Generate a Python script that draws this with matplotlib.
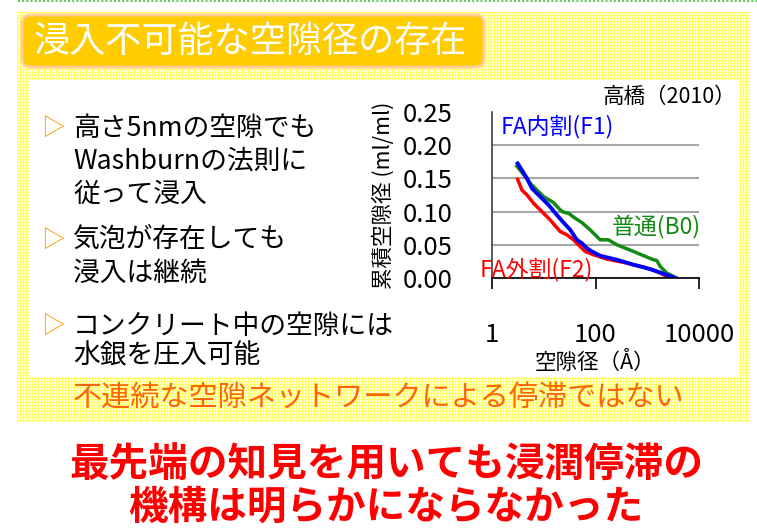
import matplotlib
matplotlib.use('Agg')
import matplotlib.pyplot as plt
import numpy as np
from matplotlib.patches import FancyBboxPatch, Rectangle

plt.rcParams['font.family'] = ['Noto Sans CJK JP', 'DejaVu Sans']

# データ
x_b0 = [3.03, 4.40, 5.49, 9.93, 15.5, 20.8, 24.1, 30.1, 40.5, 54.5, 78.9, 123, 178, 258, 542, 1310, 1520, 1780, 2380, 3700]
y_b0 = [0.1685, 0.1525, 0.1425, 0.1225, 0.1135, 0.1025, 0.099, 0.0975, 0.090, 0.0835, 0.0725, 0.0575, 0.0575, 0.050, 0.040, 0.0275, 0.0265, 0.0175, 0.0075, 0.0]
x_f1 = [3.13, 3.79, 4.74, 5.91, 8.56, 12.4, 17.9, 24.1, 32.5, 43.6, 54.5, 68.0, 85.0, 123, 258, 542, 1135, 2050, 3440]
y_f1 = [0.1725, 0.1625, 0.150, 0.135, 0.1225, 0.110, 0.095, 0.0835, 0.0725, 0.0575, 0.0525, 0.045, 0.040, 0.0335, 0.0275, 0.020, 0.0135, 0.0065, 0.0]
x_f2 = [3.13, 3.79, 4.74, 6.37, 8.56, 13.3, 20.8, 28.0, 37.6, 50.6, 63.2, 91.5, 166, 402, 844, 1520, 2380, 2760]
y_f2 = [0.1485, 0.1325, 0.125, 0.1125, 0.1025, 0.0875, 0.070, 0.065, 0.0575, 0.0475, 0.040, 0.035, 0.0285, 0.0225, 0.0165, 0.010, 0.0025, 0.0]
y_ticks = [0.00, 0.05, 0.10, 0.15, 0.20, 0.25]
x_ticks = [1, 100, 10000]

bullets = [
    ['高さ5nmの空隙でも', 'Washburnの法則に', '従って浸入'],
    ['気泡が存在しても', '浸入は継続'],
    ['コンクリート中の空隙には', '水銀を圧入可能'],
]

fig = plt.figure(figsize=(7.57, 5.28), dpi=100)

# 背景（ピクセル座標）
bg = fig.add_axes([0, 0, 1, 1])
bg.set_xlim(0, 757)
bg.set_ylim(528, 0)
bg.axis('off')

# 黄色の網目模様
h, w = 410, 733
ii, jj = np.mgrid[0:h, 0:w]
pat = ((ii % 3 == 0) | (jj % 3 == 0))
img = np.ones((h, w, 3))
img[pat] = [1.0, 1.0, 0.4]
img[~pat] = [1.0, 1.0, 0.85]
bg.imshow(img, extent=(17, 750, 422, 12), interpolation='nearest', aspect='auto', zorder=0)
bg.add_patch(Rectangle((29, 80), 711, 297, facecolor='white', edgecolor='none', zorder=1))
bg.plot([18, 757], [1, 1], color='#66CC66', lw=1.5, ls=(0, (1, 1)), zorder=1)

# タイトル
bg.add_patch(FancyBboxPatch((22, 15), 462, 52, boxstyle='round,pad=0,rounding_size=9',
                            facecolor='#FFCC00', edgecolor='#FFCC99', lw=2, zorder=2))
bg.text(34, 42, '浸入不可能な空隙径の存在', color='white', fontsize=26, va='center', ha='left', zorder=3)

# 箇条書き
ys = [[128, 161, 194], [240, 273], [326, 356]]
for lines, yy in zip(bullets, ys):
    bg.text(41, yy[0], '▷', color='#FF9900', fontsize=17, va='center', ha='left', zorder=3)
    for t, y in zip(lines, yy):
        bg.text(73, y, t, color='black', fontsize=19.3, va='center', ha='left', zorder=3)

bg.text(73, 398, '不連続な空隙ネットワークによる停滞ではない', color='#FF6600', fontsize=21,
        va='center', ha='left', zorder=3)
bg.text(386, 465, '最先端の知見を用いても浸潤停滞の', color='#FF0000', fontsize=28.5,
        fontweight='bold', va='center', ha='center', zorder=3)
bg.text(386, 507, '機構は明らかにならなかった', color='#FF0000', fontsize=28.5,
        fontweight='bold', va='center', ha='center', zorder=3)

# グラフ
ax = fig.add_axes([492 / 757, 1 - 278 / 528, 207 / 757, 166 / 528])
ax.set_facecolor('none')
ax.plot(x_b0, y_b0, color='#138A13', lw=2.5)
ax.plot(x_f2, y_f2, color='#FF0000', lw=2.5)
ax.plot(x_f1, y_f1, color='#0000FF', lw=2.8)
ax.set_xscale('log')
ax.set_xlim(1, 10000)
ax.set_ylim(0, 0.25)
ax.set_xticks(x_ticks)
ax.set_xticklabels([str(v) for v in x_ticks])
ax.xaxis.set_minor_locator(matplotlib.ticker.NullLocator())
ax.set_yticks(y_ticks)
ax.set_yticklabels(['%.2f' % v for v in y_ticks])
ax.tick_params(axis='x', direction='out', length=8, width=1.2, pad=24, labelsize=18.5)
ax.tick_params(axis='y', length=0, pad=28, labelsize=18.5)
ax.grid(axis='y', color='#A6A6A6', lw=1.5)
ax.get_ygridlines()[-1].set_visible(False)
for s in ['top', 'right']:
    ax.spines[s].set_visible(False)
ax.spines['left'].set_color('#404040')
ax.spines['left'].set_linewidth(1.2)
ax.spines['bottom'].set_color('black')
ax.spines['bottom'].set_linewidth(1.2)
ax.set_axisbelow(True)
ax.set_xlabel('空隙径（Å）', fontsize=15.5, labelpad=2)
ax.set_ylabel('累積空隙径 (ml/ml)', fontsize=15.5, labelpad=6)

ax.text(0.04, 0.915, 'FA内割(F1)', transform=ax.transAxes, color='#0000FF', fontsize=16.5, va='center', ha='left')
ax.text(0.58, 0.31, '普通(B0)', transform=ax.transAxes, color='#138A13', fontsize=16.5, va='center', ha='left')
ax.text(-0.058, 0.05, 'FA外割(F2)', transform=ax.transAxes, color='#FF0000', fontsize=16.5, va='center', ha='left')
bg.text(736, 97, '高橋（2010）', color='black', fontsize=15.5, va='center', ha='right', zorder=3)

fig.savefig('out.png', dpi=100)
